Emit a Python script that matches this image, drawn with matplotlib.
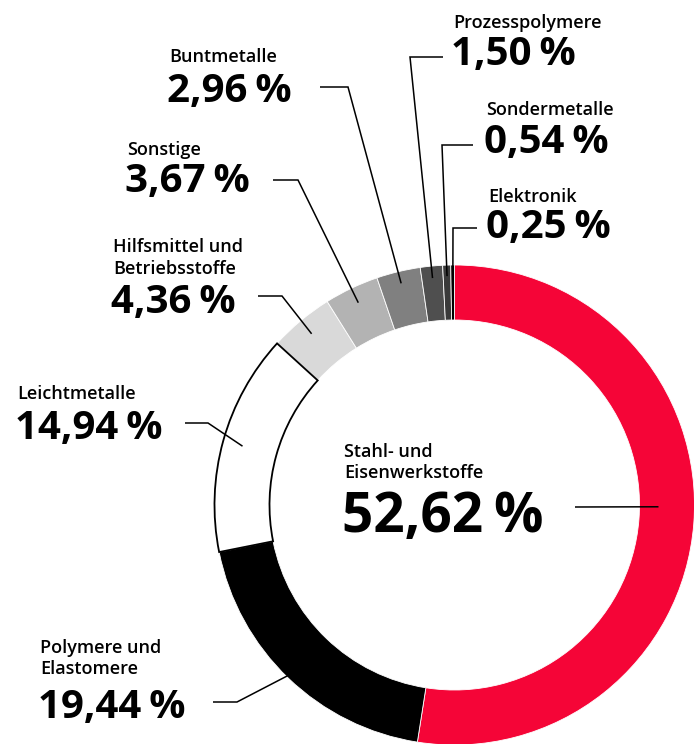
import numpy as np
import matplotlib

matplotlib.use("Agg")
import matplotlib.pyplot as plt

plt.rcParams["font.family"] = ["Open Sans", "Lato", "DejaVu Sans"]

W, H = 694, 744

# material shares in percent, clockwise from 12 o'clock
labels = [
    "Stahl- und\nEisenwerkstoffe",
    "Polymere und\nElastomere",
    "Leichtmetalle",
    "Hilfsmittel und\nBetriebsstoffe",
    "Sonstige",
    "Buntmetalle",
    "Prozesspolymere",
    "Sondermetalle",
    "Elektronik",
]
shares = [52.62, 19.44, 14.94, 4.36, 3.67, 2.96, 1.50, 0.54, 0.25]
colors = ["#f50537", "#000000", "#ffffff", "#d9d9d9", "#b3b3b3",
          "#808080", "#4f4f4f", "#3a3a3a", "#000000"]

CX, CY = 454.5, 505.0
R_OUT, RING = 240.0, 55.0

# label layout in pixel space (top-left origin):
# text x, first label baseline, value baseline, leader start x, elbow (x, y), end radius, end angle override
layout = [
    dict(tx=344, ly=457, vy=532, big=True, lx=575, elbow=(575, 507), r=204, ang=-0.5),
    dict(tx=40, ly=653, vy=718, lx=213, elbow=(237, 702), r=232, ang=None),
    dict(tx=17, ly=399, vy=439, lx=185, elbow=(208, 423), r=220, ang=None),
    dict(tx=113, ly=252, vy=313, lx=258, elbow=(282, 296), r=223, ang=None),
    dict(tx=127, ly=155, vy=192, lx=273, elbow=(298, 180), r=224, ang=None),
    dict(tx=169, ly=62, vy=102, lx=320, elbow=(348, 87), r=228, ang=None),
    dict(tx=453, ly=28, vy=65, lx=443, elbow=(410, 57), r=228, ang=None),
    dict(tx=486, ly=115, vy=153, lx=473, elbow=(442, 145), r=229, ang=None),
    dict(tx=488, ly=202, vy=238, lx=477, elbow=(453, 228), r=215, ang=None),
]


def fy(y):
    return H - y


fig = plt.figure(figsize=(W / 100, H / 100), dpi=100)
ax = fig.add_axes([0, 0, 1, 1])

wedges, _ = ax.pie(
    shares, colors=colors, radius=R_OUT, center=(CX, fy(CY)),
    startangle=90, counterclock=False, frame=True,
    wedgeprops=dict(width=RING, edgecolor="white", linewidth=0.6),
)
ax.set_xlim(0, W)
ax.set_ylim(0, H)
ax.set_aspect("equal")
ax.axis("off")
wedges[2].set_edgecolor("black")
wedges[2].set_linewidth(1.3)
wedges[2].set_zorder(3)

for lab, val, w, lo in zip(labels, shares, wedges, layout):
    ang = lo["ang"] if lo["ang"] is not None else (w.theta1 + w.theta2) / 2
    ex = CX + lo["r"] * np.cos(np.radians(ang))
    ey = CY - lo["r"] * np.sin(np.radians(ang))
    bx, by = lo["elbow"]
    ax.plot([lo["lx"], bx, ex], [fy(by), fy(by), fy(ey)], color="black",
            lw=1.1, solid_capstyle="butt", solid_joinstyle="miter", zorder=4)

    for i, line in enumerate(lab.split("\n")):
        ax.text(lo["tx"], fy(lo["ly"] + i * 21.5), line,
                fontsize=13, fontweight=600, ha="left", va="baseline")
    txt = f"{val:.2f}".replace(".", ",") + "\u2009%"
    ax.text(lo["tx"] - 2, fy(lo["vy"]), txt,
            fontsize=39.5 if lo.get("big") else 29, fontweight=700,
            ha="left", va="baseline")

fig.savefig("out.png", dpi=100, facecolor="white")
